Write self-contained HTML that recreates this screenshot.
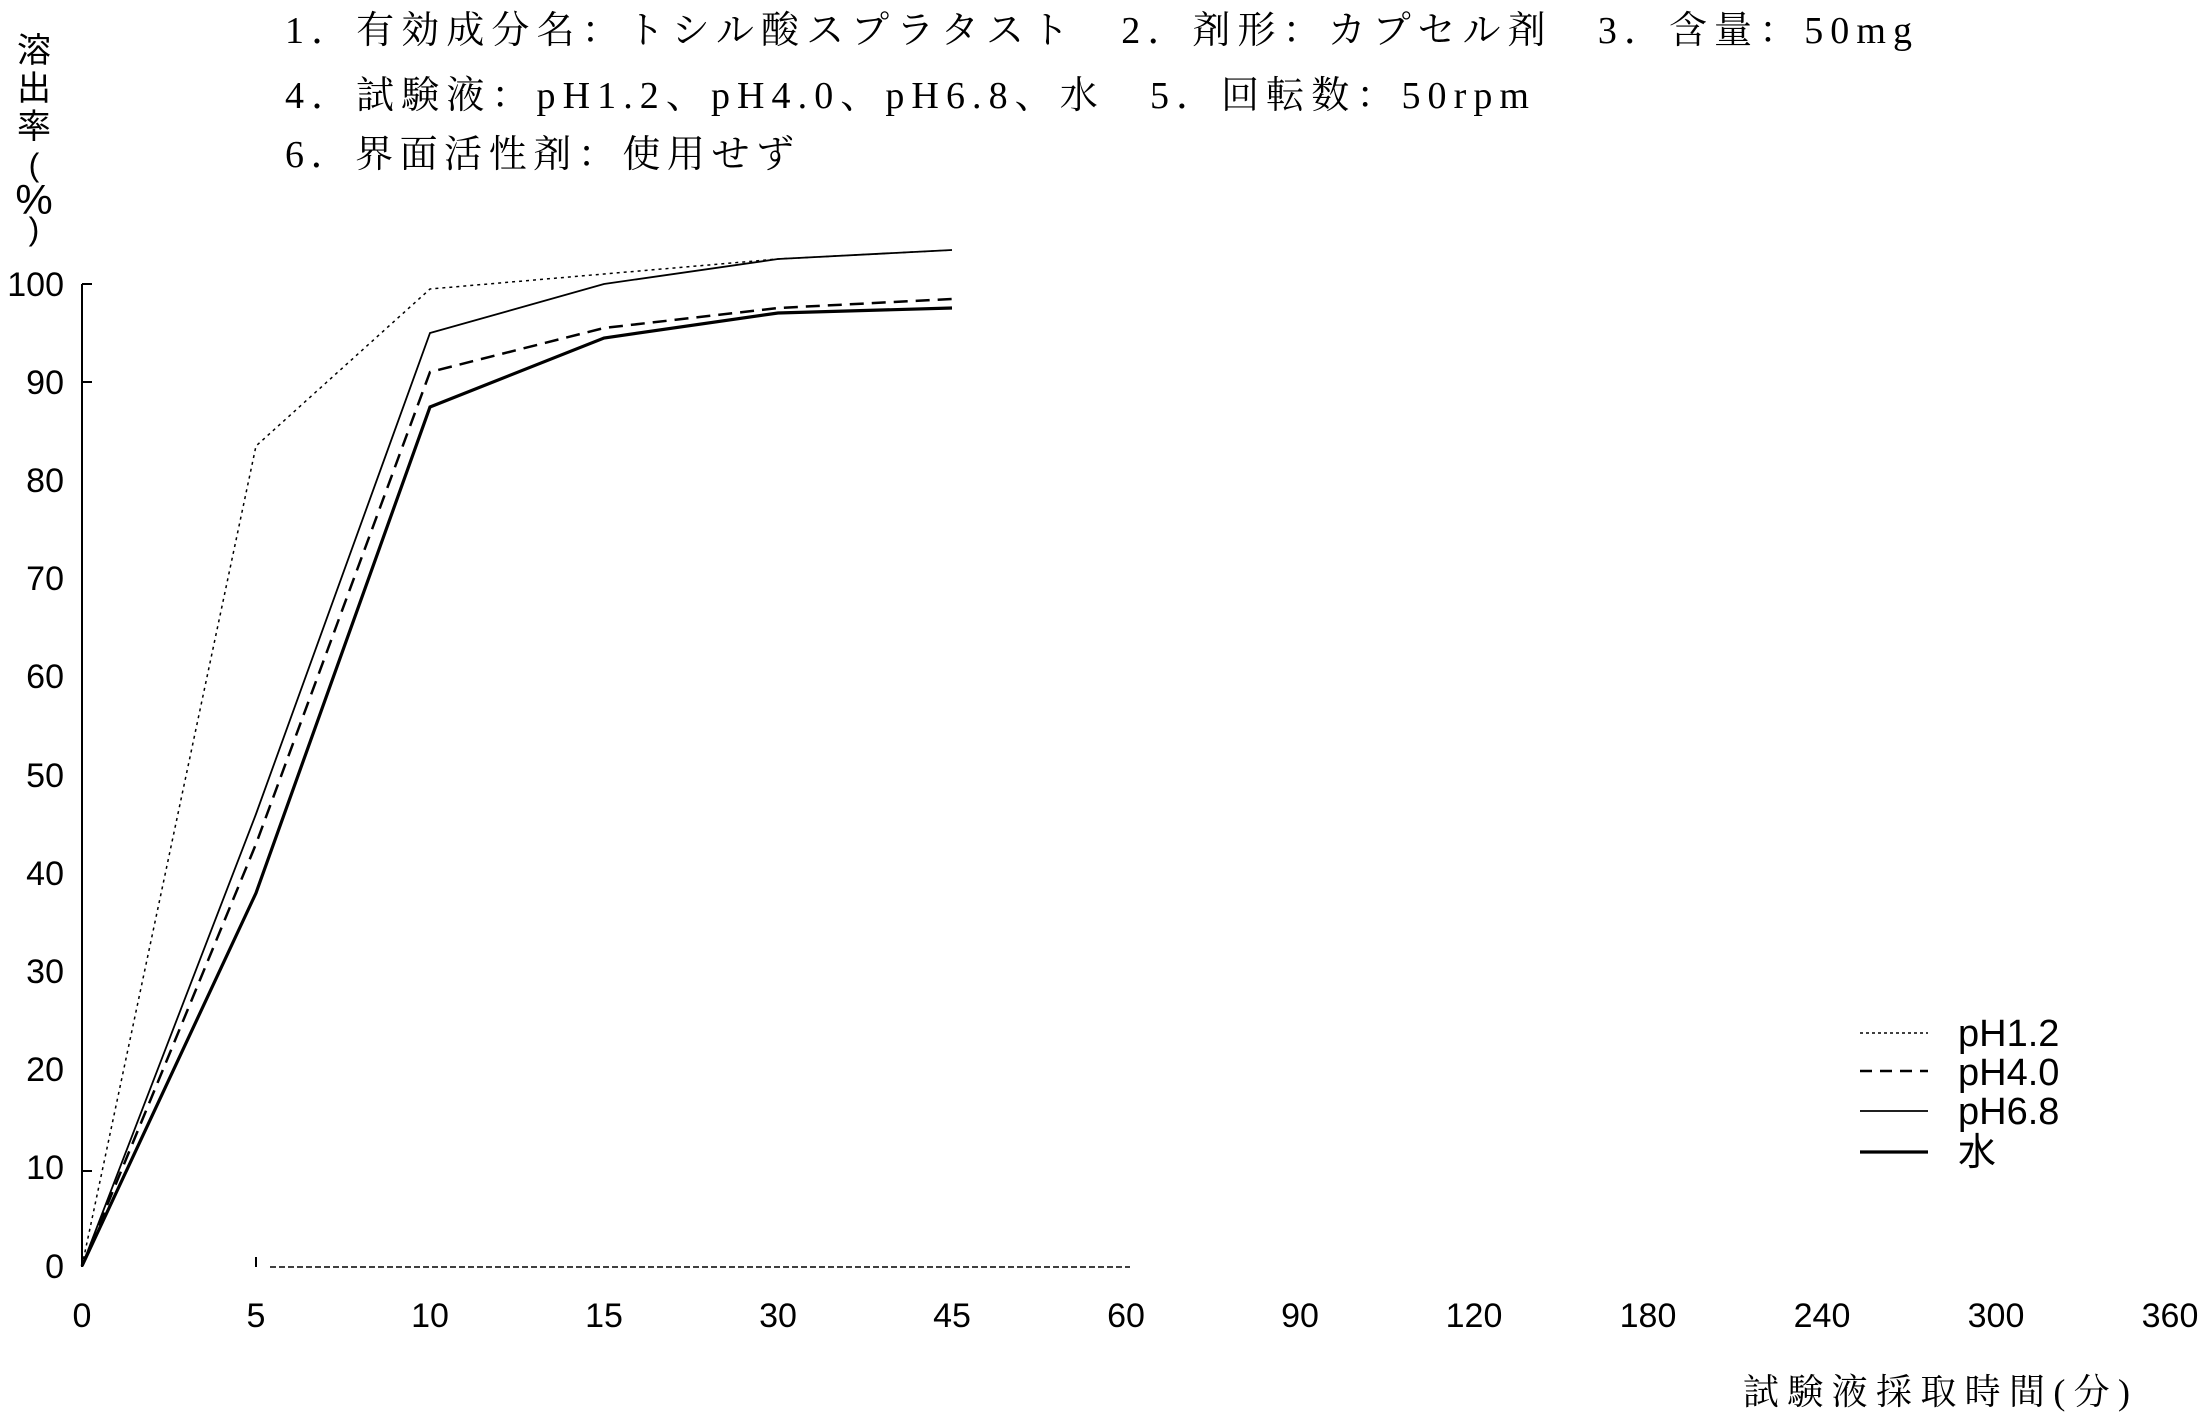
<!DOCTYPE html>
<html><head><meta charset="utf-8"><style>
html,body{margin:0;padding:0;background:#fff;}
svg{display:block;}
.s{font-family:"Liberation Serif","Noto Serif CJK SC",serif;}
.a{font-family:"Liberation Sans","Noto Sans CJK JP",sans-serif;}
</style></head><body>
<svg width="2204" height="1417" viewBox="0 0 2204 1417" xmlns="http://www.w3.org/2000/svg">
<rect width="2204" height="1417" fill="#fff"/>
<g class="s" font-size="38" fill="#000">
<text x="285" y="43" textLength="1627" lengthAdjust="spacing">1．有効成分名：トシル酸スプラタスト　2．剤形：カプセル剤　3．含量：50mg</text>
<text x="285" y="108" textLength="1244" lengthAdjust="spacing">4．試験液：pH1.2、pH4.0、pH6.8、水　5．回転数：50rpm</text>
<text x="285" y="167" textLength="509" lengthAdjust="spacing">6．界面活性剤：使用せず</text>
</g>
<g class="a" font-size="34" fill="#000" text-anchor="middle">
<text x="34" y="62">溶</text><text x="34" y="100">出</text><text x="34" y="138">率</text>
<text x="34" y="176" font-size="32">(</text>
<text x="34" y="214" font-size="42">%</text>
<text x="34" y="240" font-size="32">)</text>
</g>
<g class="a" font-size="34" fill="#000" text-anchor="end">
<text x="64" y="296">100</text><text x="64" y="394">90</text><text x="64" y="492">80</text>
<text x="64" y="590">70</text><text x="64" y="688">60</text><text x="64" y="787">50</text>
<text x="64" y="885">40</text><text x="64" y="983">30</text><text x="64" y="1081">20</text>
<text x="64" y="1179">10</text><text x="64" y="1278">0</text>
</g>
<g class="a" font-size="34" fill="#000" text-anchor="middle">
<text x="82" y="1327">0</text><text x="256" y="1327">5</text><text x="430" y="1327">10</text>
<text x="604" y="1327">15</text><text x="778" y="1327">30</text><text x="952" y="1327">45</text>
<text x="1126" y="1327">60</text><text x="1300" y="1327">90</text><text x="1474" y="1327">120</text>
<text x="1648" y="1327">180</text><text x="1822" y="1327">240</text><text x="1996" y="1327">300</text>
<text x="2170" y="1327">360</text>
</g>
<text class="s" x="1743" y="1404" font-size="36" textLength="387" lengthAdjust="spacing">試験液採取時間(分)</text>
<line x1="82" y1="284" x2="82" y2="1267" stroke="#000" stroke-width="2"/>
<g stroke="#000" stroke-width="2">
<line x1="82" y1="284" x2="92" y2="284"/><line x1="82" y1="382" x2="92" y2="382"/>
<line x1="82" y1="1171" x2="92" y2="1171"/>
<line x1="256" y1="1257" x2="256" y2="1267"/>
</g>
<line x1="270" y1="1267" x2="1130" y2="1267" stroke="#000" stroke-width="1.5" stroke-dasharray="6,3"/>
<g fill="none" stroke="#000" stroke-linejoin="miter">
<polyline points="82,1266 256,446 430,289 604,274 778,259 952,250" stroke-width="1.5" stroke-dasharray="3,4"/>
<polyline points="82,1266 256,814 430,333 604,284 778,259 952,250" stroke-width="1.8"/>
<polyline points="82,1266 256,844 430,372 604,328 778,308 952,299" stroke-width="2.5" stroke-dasharray="14,8"/>
<polyline points="82,1266 256,893 430,407 604,338 778,313 952,308" stroke-width="3.2"/>
<line x1="1860" y1="1033" x2="1928" y2="1033" stroke-width="1.5" stroke-dasharray="3,3"/>
<line x1="1860" y1="1071" x2="1928" y2="1071" stroke-width="2.5" stroke-dasharray="12,8"/>
<line x1="1860" y1="1111" x2="1928" y2="1111" stroke-width="1.8"/>
<line x1="1860" y1="1152" x2="1928" y2="1152" stroke-width="3.2"/>
</g>
<g class="a" font-size="38" fill="#000">
<text x="1958" y="1046">pH1.2</text><text x="1958" y="1085">pH4.0</text>
<text x="1958" y="1124">pH6.8</text><text x="1958" y="1165">水</text>
</g>
</svg>
</body></html>
